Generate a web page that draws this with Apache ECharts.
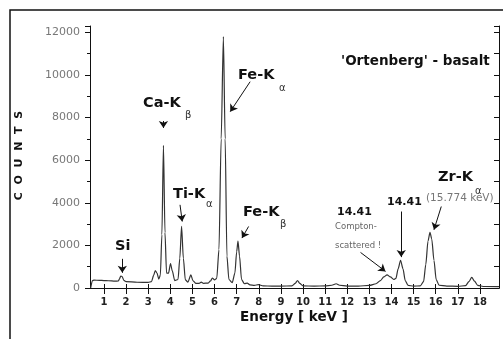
<!DOCTYPE html>
<html>
<head>
<meta charset="utf-8">
<script src="https://cdn.jsdelivr.net/npm/echarts@6/dist/echarts.min.js"></script>
<style>
  html, body { margin: 0; padding: 0; background: #fff; }
  #chart { width: 503px; height: 339px; }
</style>
</head>
<body>
<div id="chart"></div>
<script>
// spectrum: energy (keV) and counts
const energy = [
  0.40, 0.48, 0.55, 0.80, 1.00, 1.20, 1.50, 1.65, 1.70, 1.76, 1.82, 1.90, 2.00, 2.50, 3.00,
  3.15, 3.25, 3.32, 3.40, 3.48, 3.55, 3.62, 3.69, 3.76, 3.83, 3.92, 4.01, 4.09, 4.20,
  4.35, 4.43, 4.51, 4.59, 4.68, 4.80, 4.93, 5.02, 5.15, 5.30, 5.40, 5.50, 5.70, 5.82,
  5.90, 6.00, 6.10, 6.20, 6.30, 6.40, 6.48, 6.56, 6.65, 6.80, 6.92, 7.00, 7.06, 7.13,
  7.22, 7.35, 7.48, 7.60, 7.80, 7.98, 8.20, 8.60, 9.00, 9.50, 9.65, 9.75, 9.85, 10.00,
  10.50, 11.00, 11.30, 11.50, 11.65, 12.00, 12.50, 13.00, 13.30, 13.50, 13.65, 13.80,
  13.95, 14.10, 14.20, 14.30, 14.41, 14.52, 14.62, 14.75, 15.00, 15.30, 15.45, 15.55,
  15.65, 15.74, 15.82, 15.92, 16.02, 16.15, 16.50, 17.00, 17.35, 17.50, 17.63, 17.75,
  17.90, 18.20, 18.86
];
const counts = [
  0, 350, 370, 360, 350, 340, 320, 330, 420, 560, 540, 360, 300, 270, 260,
  300, 600, 820, 700, 420, 600, 2500, 6700, 2600, 700, 700, 1150, 800, 350,
  400, 1400, 2900, 1400, 380, 280, 620, 350, 220, 220, 280, 220, 230, 330,
  470, 380, 450, 1800, 7000, 11800, 7000, 1500, 400, 250, 700, 1700, 2200, 1500,
  400, 200, 230, 150, 120, 160, 100, 90, 90, 100, 220, 350, 220, 100,
  90, 100, 130, 200, 130, 90, 90, 120, 200, 350, 520, 620,
  520, 400, 450, 900, 1300, 900, 350, 120, 90, 100, 300, 1100,
  2200, 2610, 2300, 1300, 400, 130, 90, 80, 110, 300, 500, 320,
  120, 70, 60
];
const xTicks = [1, 2, 3, 4, 5, 6, 7, 8, 9, 10, 11, 12, 13, 14, 15, 16, 17, 18];

// arrows: [from, to] in keV / counts
const arrows = [
  [[1.83, 1370], [1.83, 715]],
  [[3.69, 7840], [3.69, 7515]],
  [[7.61, 9686], [6.71, 8280]],
  [[4.44, 3905], [4.54, 3122]],
  [[7.54, 2888], [7.24, 2344]],
  [[12.6, 1670], [13.73, 780]],
  [[14.44, 3590], [14.44, 1450]],
  [[16.25, 3826], [15.92, 2733]]
];

const chart = echarts.init(document.getElementById('chart'));

function txt(x, y, s, size) {
  return {
    type: 'text', left: x, top: y - size * 0.6,
    style: { text: s, font: 'bold ' + size + 'px "DejaVu Sans", sans-serif', fill: '#111' }
  };
}
function small(x, y, s, size, color) {
  return {
    type: 'text', left: x, top: y - size * 0.6,
    style: { text: s, font: size + 'px "DejaVu Sans", sans-serif', fill: color || '#333' }
  };
}

const option = {
  animation: false,
  backgroundColor: '#fff',
  grid: { left: 90, top: 26, right: 4, bottom: 51 },
  xAxis: [
    {
      type: 'value', min: 0.37, max: 18.86,
      axisLine: { lineStyle: { color: '#111', width: 1 } },
      axisTick: { inside: true, length: 4, customValues: xTicks, lineStyle: { color: '#111' } },
      axisLabel: {
        customValues: xTicks, margin: 9, color: '#222',
        fontFamily: 'DejaVu Sans', fontWeight: 'bold', fontSize: 10
      },
      splitLine: { show: false }
    },
    {
      type: 'value', position: 'top', min: 0.37, max: 18.86,
      axisLine: { lineStyle: { color: '#111', width: 1 } },
      axisTick: { inside: true, length: 6, customValues: xTicks, lineStyle: { color: '#111' } },
      axisLabel: { show: false },
      splitLine: { show: false }
    }
  ],
  yAxis: [
    {
      type: 'value', min: 0, max: 12300, interval: 2000,
      axisLine: { show: true, lineStyle: { color: '#111', width: 1 } },
      axisTick: { show: true, length: 5, lineStyle: { color: '#111' } },
      minorTick: { show: true, splitNumber: 2, length: 3, lineStyle: { color: '#111' } },
      axisLabel: {
        margin: 10, color: '#777', fontFamily: 'DejaVu Sans', fontSize: 11,
        formatter: v => String(v)
      },
      splitLine: { show: false }
    },
    {
      type: 'value', position: 'right', min: 0, max: 12300, interval: 1000,
      axisLine: { show: true, lineStyle: { color: '#111', width: 1 } },
      axisTick: { show: true, inside: true, length: 5, lineStyle: { color: '#111' } },
      axisLabel: { show: false },
      splitLine: { show: false }
    }
  ],
  series: [
    {
      type: 'line',
      data: energy.map((e, i) => [e, counts[i]]),
      showSymbol: false,
      smooth: 0.25,
      smoothMonotone: 'x',
      lineStyle: { color: '#333', width: 1.2 },
      markLine: {
        silent: true,
        symbol: ['none', 'arrow'],
        symbolSize: 7,
        label: { show: false },
        lineStyle: { color: '#111', width: 1, type: 'solid' },
        data: arrows.map(a => [{ coord: a[0] }, { coord: a[1] }])
      }
    }
  ],
  graphic: [
    {
      type: 'rect', shape: { x: 10, y: 10, width: 520, height: 360 },
      style: { fill: 'none', stroke: '#111', lineWidth: 1.5 }, silent: true
    },
    {
      type: 'text', x: 19.5, y: 155.5, rotation: Math.PI / 2,
      style: {
        text: 'C  O  U  N  T  S', font: 'bold 11px "DejaVu Sans", sans-serif',
        fill: '#111', align: 'center', verticalAlign: 'middle'
      }
    },
    {
      type: 'text', x: 294, y: 317,
      style: {
        text: 'Energy [ keV ]', font: 'bold 13.5px "DejaVu Sans", sans-serif',
        fill: '#111', align: 'center', verticalAlign: 'middle'
      }
    },
    txt(341, 63, "'Ortenberg' - basalt", 13.5),
    txt(115, 247, 'Si', 14.5),
    txt(143, 104, 'Ca-K', 14.5),
    small(185, 116, 'β', 10),
    txt(238, 76, 'Fe-K', 14.5),
    small(279, 89, 'α', 10),
    txt(173, 195, 'Ti-K', 14.5),
    small(206, 205, 'α', 10),
    txt(243, 213, 'Fe-K', 14.5),
    small(280, 225, 'β', 10),
    txt(337, 213, '14.41', 11),
    small(335, 227, 'Compton-', 8.5, '#666'),
    small(335, 246, 'scattered !', 8.5, '#666'),
    txt(387, 203, '14.41', 11),
    txt(438, 178, 'Zr-K', 14.5),
    small(475, 192, 'α', 10),
    small(426, 199, '(15.774 keV)', 10.5, '#777')
  ]
};

chart.setOption(option);
</script>
</body>
</html>
